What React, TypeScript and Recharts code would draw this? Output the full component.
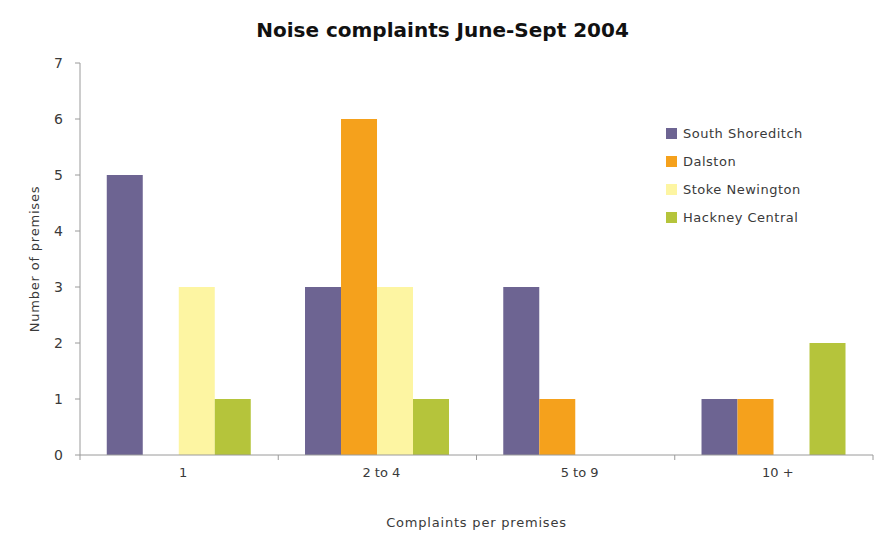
import React from "react";
import { BarChart, Bar, XAxis, YAxis } from "recharts";

const CATEGORIES = ["1", "2 to 4", "5 to 9", "10 +"];
const SOUTH_SHOREDITCH = [5, 3, 3, 1];
const DALSTON = [0, 6, 1, 1];
const STOKE_NEWINGTON = [3, 3, 0, 0];
const HACKNEY_CENTRAL = [1, 1, 0, 2];
const Y_TICKS = [0, 1, 2, 3, 4, 5, 6, 7];

const SERIES = [
  { key: "southShoreditch", name: "South Shoreditch", color: "#6d6492" },
  { key: "dalston", name: "Dalston", color: "#f5a11c" },
  { key: "stokeNewington", name: "Stoke Newington", color: "#fdf5a2" },
  { key: "hackneyCentral", name: "Hackney Central", color: "#b5c43b" },
];

const data = CATEGORIES.map((cat, i) => ({
  cat,
  southShoreditch: SOUTH_SHOREDITCH[i],
  dalston: DALSTON[i],
  stokeNewington: STOKE_NEWINGTON[i],
  hackneyCentral: HACKNEY_CENTRAL[i],
}));

const WIDTH = 885;
const HEIGHT = 534;
const MARGIN = { top: 63, right: 12, bottom: 49, left: 41 };
const Y_AXIS_W = 39;
const FONT = "'DejaVu Sans', sans-serif";
const TEXT = "#3a3a3a";
const AXIS = "#9a9a9a";

const plotWidth = WIDTH - MARGIN.left - MARGIN.right - Y_AXIS_W;
const band = plotWidth / CATEGORIES.length;

// category label plus Excel-style tick marks on the band edges
function XTick(props: any) {
  const { x, y, payload, index } = props;
  const left = x - band / 2;
  const isLast = index === CATEGORIES.length - 1;
  return (
    <g>
      <line x1={left} y1={y - 8} x2={left} y2={y - 3} stroke={AXIS} />
      {isLast && <line x1={x + band / 2} y1={y - 8} x2={x + band / 2} y2={y - 3} stroke={AXIS} />}
      <text x={x + 4} y={y + 14} textAnchor="middle" fontSize={13} fill={TEXT} fontFamily={FONT}>
        {payload.value}
      </text>
    </g>
  );
}

// legend drawn over the plot, in series order
function LegendBox() {
  return (
    <div
      style={{
        position: "absolute",
        top: 119,
        left: 666,
        fontFamily: FONT,
        fontSize: 13,
        letterSpacing: 0.5,
        color: TEXT,
      }}
    >
      {SERIES.map((s) => (
        <div key={s.key} style={{ display: "flex", alignItems: "center", height: 28 }}>
          <span style={{ width: 11, height: 11, background: s.color, marginRight: 6, display: "inline-block" }} />
          <span>{s.name}</span>
        </div>
      ))}
    </div>
  );
}

export default function App() {
  return (
    <div style={{ position: "absolute", left: 0, top: 0, width: WIDTH, height: HEIGHT, background: "#fff" }}>
      <div
        style={{
          position: "absolute",
          top: 18,
          left: 0,
          width: WIDTH,
          textAlign: "center",
          fontFamily: FONT,
          fontWeight: "bold",
          fontSize: 20,
          color: "#111",
        }}
      >
        Noise complaints June-Sept 2004
      </div>
      <BarChart width={WIDTH} height={HEIGHT} data={data} margin={MARGIN} barCategoryGap="13.5%" barGap={0}>
        <XAxis
          dataKey="cat"
          axisLine={{ stroke: AXIS }}
          tickLine={false}
          tick={<XTick />}
          height={30}
          interval={0}
          label={{
            value: "Complaints per premises",
            position: "insideBottom",
            offset: -42,
            fill: TEXT,
            fontSize: 13,
            letterSpacing: 0.8,
            fontFamily: FONT,
          }}
        />
        <YAxis
          domain={[0, 7]}
          ticks={Y_TICKS}
          width={Y_AXIS_W}
          axisLine={{ stroke: AXIS }}
          tickLine={{ stroke: AXIS }}
          tickSize={5}
          tickMargin={12}
          tick={{ fill: TEXT, fontSize: 14, fontFamily: FONT }}
          label={{
            value: "Number of premises",
            angle: -90,
            position: "insideLeft",
            offset: -7,
            style: { textAnchor: "middle" },
            fill: TEXT,
            fontSize: 13,
            letterSpacing: 0.8,
            fontFamily: FONT,
          }}
        />
        {SERIES.map((s) => (
          <Bar key={s.key} dataKey={s.key} name={s.name} fill={s.color} isAnimationActive={false} />
        ))}
      </BarChart>
      <LegendBox />
    </div>
  );
}
